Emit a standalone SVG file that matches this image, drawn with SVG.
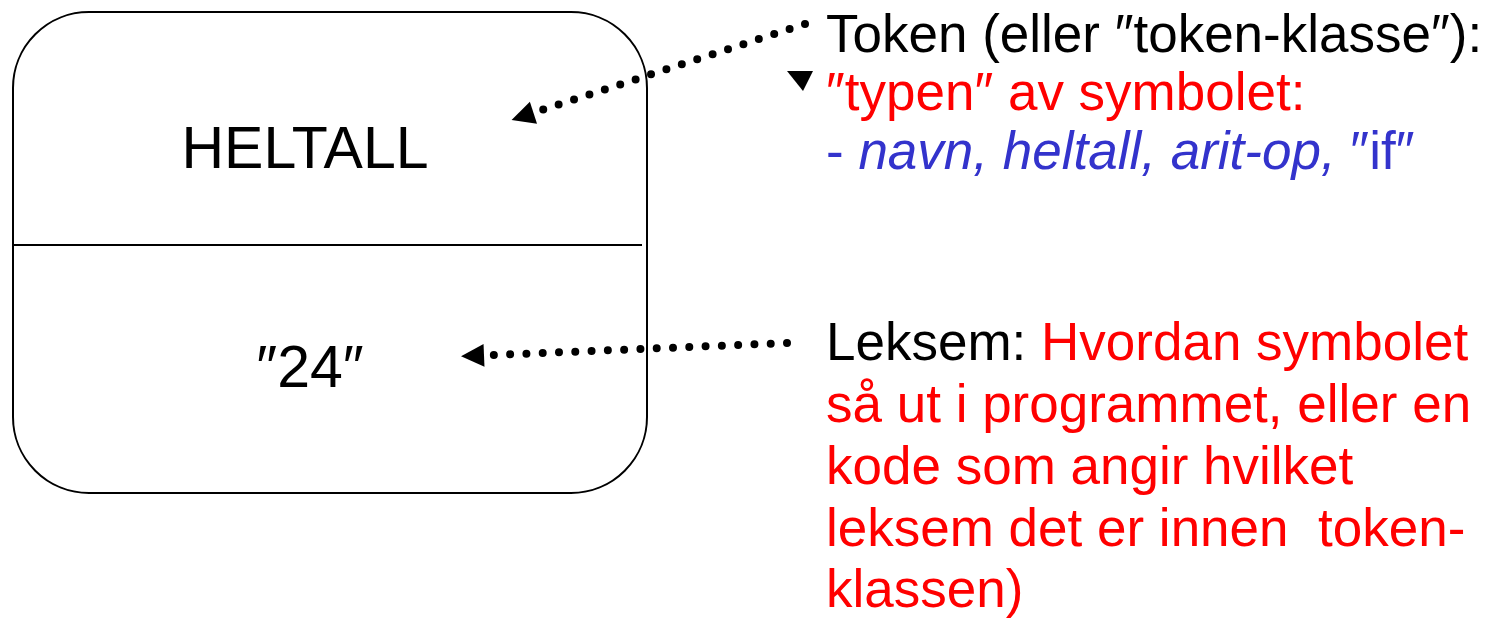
<svg xmlns="http://www.w3.org/2000/svg" width="1501" height="620" viewBox="0 0 1501 620">
<style>
text{font-family:"Liberation Sans",Arial,"DejaVu Sans",sans-serif;font-size:53px;white-space:pre}
text.big{font-size:59px}
.k{fill:#000}
.r{fill:#FF0000}
.b{fill:#3333CC}
.dot{fill:none;stroke:#000;stroke-width:8;stroke-linecap:round}
</style>
<defs>
<marker id="ah" viewBox="0 -12 36 24" markerWidth="36" markerHeight="24" refX="0" refY="0" orient="auto" markerUnits="userSpaceOnUse">
<path d="M9,-11.5 L32,0 L9,11.5 z" fill="#000"/>
</marker>
</defs>
<rect width="1501" height="620" fill="#fff"/>
<g id="token-node">
<rect x="13" y="12" width="634" height="481" rx="76" ry="76" fill="#fff" stroke="#000" stroke-width="2"/>
<line x1="13" y1="245" x2="642" y2="245" stroke="#000" stroke-width="2"/>
<text class="k big" x="305" y="168" text-anchor="middle">HELTALL</text>
<text class="k big" x="310" y="387" text-anchor="middle">″24″</text>
</g>
<g id="connectors">
<path class="dot" d="M805,24 L542,110" stroke-dasharray="0 16.2" marker-end="url(#ah)"/>
<path class="dot" d="M787,343 L493,355" stroke-dasharray="0 16.3" marker-end="url(#ah)"/>
<polygon points="787,71 813,71 803,91" fill="#000"/>
</g>
<g id="token-label">
<text x="826" y="52" class="k">Token (eller ″token-klasse″):</text>
<text x="826" y="110" class="r">″typen″ av symbolet:</text>
<text x="826" y="169" class="b">- <tspan font-style="italic">navn, heltall, arit-op,</tspan> ″if″</text>
</g>
<g id="leksem-label">
<text x="826" y="360" class="k">Leksem: <tspan class="r">Hvordan symbolet</tspan></text>
<text x="826" y="422" class="r">så ut i programmet, eller en</text>
<text x="826" y="484" class="r">kode som angir hvilket</text>
<text x="826" y="546" class="r">leksem det er innen  token-</text>
<text x="826" y="607" class="r">klassen)</text>
</g>
</svg>
